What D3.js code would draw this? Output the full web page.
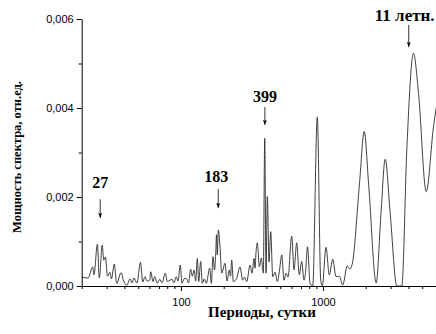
<!DOCTYPE html>
<html>
<head>
<meta charset="utf-8">
<script src="https://cdn.jsdelivr.net/npm/d3@7"></script>
<style>
  body { margin: 0; background: #fff; }
  svg { display: block; }
  .tick text { font-family: "Liberation Sans", Arial, sans-serif; font-size: 11px; fill: #000; }
  .title { font-family: "Liberation Serif", "Times New Roman", serif; font-weight: bold; }
  .note { font-family: "Liberation Serif", "Times New Roman", serif; font-weight: bold; }
</style>
</head>
<body>
<div id="chart"></div>
<script>
// spectrum: period (days) and power (rel. units)
const periods = [
  20, 22.2, 23.9, 24.4, 25.8, 26.6, 27.9, 28.6, 29.4, 30.4, 31.6, 32.4, 33.9, 35.3, 37.9, 39.3,
  41.5, 43.8, 45.2, 46.7, 49.0, 51.9, 53.8, 55.8, 57.7, 60.3, 61.2, 63.6, 65.3, 68.1, 70.9, 73.5,
  77.6, 80.1, 83.7, 86.5, 89.3, 92.7, 95.3, 98.9, 101.7, 105.1, 109.1, 113, 117.1, 120.2, 123.6, 127,
  130.4, 133.4, 137.7, 141.4, 146, 150.8, 159.4, 163.6, 168.2, 172.3, 175.7, 178, 180.3, 183.2, 188.4, 193.6,
  204.3, 211, 219, 223.4, 227.8, 233.8, 246.1, 260.6, 272.3, 280.4, 290.6, 306.6, 316.7, 327, 332.4, 337.9,
  345.1, 356.5, 368.1, 380.3, 389, 397.3, 405.8, 417.1, 428.7, 443, 459.8, 477.3, 494.6, 512.5, 532, 549.5,
  567.3, 602.5, 625.4, 653.2, 681.4, 708.4, 735.4, 753.5, 778.6, 810.8, 847, 912.4, 964.3, 989.5, 1051, 1108,
  1172, 1236, 1304, 1377, 1484, 1550, 1614, 1809, 1952, 2103, 2371, 2555, 2744, 2976, 3313, 3592,
  3895, 4342, 4710, 5337, 6005, 6621
];
const power = [
  0.00020, 0.00018, 0.00043, 0.00025, 0.00094, 0.00018, 0.00092, 0.00058, 0.00065, 0.00022, 0.00031, 0.00016, 0.00049, 0.00006, 0.00030, 0.00013,
  0.00002, 0.00016, 0.00007, 0.00018, 0.00007, 0.00053, 0.00009, 0.00021, 0.00011, 0.00013, 0.00032, 0.00010, 0.00021, 0.00006, 0.00015, 0.00007,
  0.00029, 0.00010, 0.00013, 0.00015, 0.00007, 0.00021, 0.00011, 0.00047, 0.00006, 0.00016, 0.00017, 0.00007, 0.00038, 0.00022, 0.00036, 0.00011,
  0.00062, 0.00010, 0.00055, 0.00006, 0.00016, 0.00006, 0.00040, 0.00006, 0.00066, 0.00036, 0.00073, 0.00115, 0.00070, 0.00126, 0.00088, 0.00029,
  0.00051, 0.00011, 0.00036, 0.00022, 0.00058, 0.00010, 0.00016, 0.00043, 0.00013, 0.00020, 0.00010, 0.00047, 0.00029, 0.00062, 0.00040, 0.00077,
  0.00097, 0.00043, 0.00063, 0.00029, 0.00332, 0.00029, 0.00201, 0.00054, 0.00122, 0.00021, 0.00031, 0.00010, 0.00036, 0.00070, 0.00013, 0.00029,
  0.00020, 0.00112, 0.00036, 0.00097, 0.00025, 0.00055, 0.00013, 0.00031, 0.00088, 0.00007, 0.00000, 0.00380, 0.00013, 0.00000, 0.00087, 0.00025,
  0.00060, 0.00021, 0.00022, 0.00002, 0.00045, 0.00038, 0.00052, 0.00231, 0.00347, 0.00223, 0.00007, 0.00156, 0.00285, 0.00163, 0.00000, 0.00000,
  0.00306, 0.00523, 0.00433, 0.00212, 0.00358, 0.00444
];

const yTicks = [0, 0.002, 0.004, 0.006];
const yMinorTicks = [0.001, 0.003, 0.005];
const xTicks = [100, 1000];
const xMinorTicks = [20, 30, 40, 50, 60, 70, 80, 90, 200, 300, 400, 500, 600, 700, 800, 900, 2000, 3000, 4000, 5000];

// labelled peaks: period, text level, arrow from/to (in power units)
const notes = [
  { label: "27", period: 27, textAt: 0.00220, from: 0.00195, to: 0.00153, dx: 0, size: 16 },
  { label: "183", period: 183, textAt: 0.00234, from: 0.00218, to: 0.00175, dx: -2, size: 16 },
  { label: "399", period: 390, textAt: 0.00413, from: 0.00402, to: 0.00362, dx: 0, size: 16 },
  { label: "11 летн.", period: 4018, textAt: 0.00596, from: 0.00587, to: 0.00537, dx: -4, size: 17 }
];

const width = 436, height = 334;
const x0 = 81.7, decade = 142;
const xMax = 6700;

const svg = d3.select("#chart").append("svg")
  .attr("width", width)
  .attr("height", height);

const x = d3.scaleLog()
  .domain([20, xMax])
  .range([x0, x0 + decade * Math.log10(xMax / 20)]);
const y = d3.scaleLinear()
  .domain([0, 0.006])
  .range([286, 19]);

const fmt = d => d.toFixed(3).replace(".", ",");

// y axis
svg.append("g")
  .attr("transform", "translate(" + x0 + ",0)")
  .call(d3.axisLeft(y).tickValues(yMinorTicks).tickSize(3).tickFormat(""))
  .call(g => g.select(".domain").remove());
svg.append("g")
  .attr("transform", "translate(" + x0 + ",0)")
  .call(d3.axisLeft(y).tickValues(yTicks).tickSize(5).tickSizeOuter(0).tickPadding(3).tickFormat(fmt));

// x axis
svg.append("g")
  .attr("transform", "translate(0,286)")
  .call(d3.axisBottom(x).tickValues(xMinorTicks).tickSize(3).tickFormat(""))
  .call(g => g.select(".domain").remove());
svg.append("g")
  .attr("transform", "translate(0,286)")
  .call(d3.axisBottom(x).tickValues(xTicks).tickSize(5).tickSizeOuter(0).tickPadding(7).tickFormat(d3.format("d")));

svg.selectAll(".domain, .tick line").attr("stroke", "#000");

// spectrum line
const data = periods.map((p, i) => ({ p: p, v: power[i] }));
const line = d3.line()
  .x(d => x(d.p))
  .y(d => y(d.v))
  .curve(d3.curveMonotoneX);

svg.append("path")
  .datum(data)
  .attr("fill", "none")
  .attr("stroke", "#2a2a2a")
  .attr("stroke-width", 0.9)
  .attr("d", line);

// peak labels with arrows
svg.append("defs").append("marker")
  .attr("id", "head")
  .attr("viewBox", "0 0 8 6")
  .attr("refX", 8).attr("refY", 3)
  .attr("markerWidth", 7).attr("markerHeight", 4)
  .attr("markerUnits", "userSpaceOnUse")
  .attr("orient", "auto")
  .append("path")
  .attr("d", "M0,0 L8,3 L0,6 L2,3 Z")
  .attr("fill", "#000");

const note = svg.selectAll(".peak").data(notes).enter().append("g").attr("class", "peak");
note.append("text")
  .attr("class", "note")
  .attr("x", d => x(d.period) + d.dx)
  .attr("y", d => y(d.textAt))
  .attr("text-anchor", "middle")
  .style("font-size", d => d.size + "px")
  .text(d => d.label);
note.append("line")
  .attr("x1", d => x(d.period)).attr("x2", d => x(d.period))
  .attr("y1", d => y(d.from)).attr("y2", d => y(d.to))
  .attr("stroke", "#000")
  .attr("stroke-width", 0.8)
  .attr("marker-end", "url(#head)");

// axis titles
svg.append("text")
  .attr("class", "title")
  .attr("x", 262).attr("y", 317)
  .attr("text-anchor", "middle")
  .style("font-size", "15px")
  .text("Периоды, сутки");
svg.append("text")
  .attr("class", "title")
  .attr("transform", "translate(21,157) rotate(-90)")
  .attr("text-anchor", "middle")
  .style("font-size", "12.5px")
  .text("Мощность спектра, отн.ед.");
</script>
</body>
</html>
